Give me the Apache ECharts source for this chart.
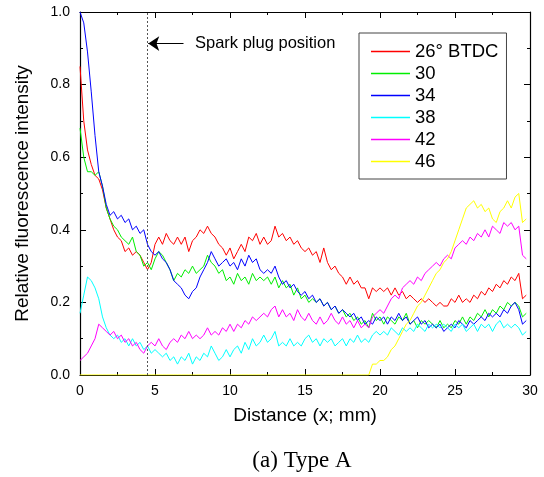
<!DOCTYPE html>
<html>
<head>
<meta charset="utf-8">
<script src="https://cdn.jsdelivr.net/npm/echarts@6/dist/echarts.min.js"></script>
<style>
  html, body { margin: 0; padding: 0; background: #fff; }
  #chart { width: 544px; height: 477px; }
</style>
</head>
<body>
<div id="chart"></div>
<script>
// sample positions along x (mm)
const distance = [
  0,0.25,0.5,0.75,1,1.25,1.5,1.75,2,2.25,2.5,2.75,3,3.25,3.5,3.75,4,4.25,4.5,4.75,
  5,5.25,5.5,5.75,6,6.25,6.5,6.75,7,7.25,7.5,7.75,8,8.25,8.5,8.75,9,9.25,9.5,9.75,
  10,10.25,10.5,10.75,11,11.25,11.5,11.75,12,12.25,12.5,12.75,13,13.25,13.5,13.75,14,14.25,14.5,14.75,
  15,15.25,15.5,15.75,16,16.25,16.5,16.75,17,17.25,17.5,17.75,18,18.25,18.5,18.75,19,19.25,19.5,19.75,
  20,20.25,20.5,20.75,21,21.25,21.5,21.75,22,22.25,22.5,22.75,23,23.25,23.5,23.75,24,24.25,24.5,24.75,
  25,25.25,25.5,25.75,26,26.25,26.5,26.75,27,27.25,27.5,27.75,28,28.25,28.5,28.75,29,29.25,29.5,29.75
];

const names = ['26° BTDC', '30', '34', '38', '42', '46'];
const colors = ['#ff0000', '#00ee00', '#0000ff', '#00ffff', '#ff00ff', '#ffff00'];

const red = [
  0.85,0.70,0.62,0.58,0.55,0.54,0.51,0.46,0.43,0.40,0.38,0.37,0.34,0.35,0.33,0.34,0.33,0.31,0.29,0.31,
  0.36,0.38,0.36,0.39,0.37,0.36,0.38,0.36,0.38,0.34,0.37,0.38,0.40,0.39,0.41,0.39,0.38,0.36,0.35,0.33,
  0.35,0.32,0.34,0.36,0.34,0.38,0.37,0.39,0.36,0.38,0.36,0.37,0.41,0.38,0.39,0.37,0.38,0.36,0.37,0.35,
  0.34,0.35,0.33,0.34,0.31,0.35,0.31,0.29,0.30,0.28,0.27,0.25,0.27,0.25,0.26,0.24,0.24,0.21,0.24,0.23,
  0.24,0.23,0.24,0.22,0.24,0.22,0.23,0.21,0.22,0.21,0.20,0.21,0.20,0.21,0.20,0.19,0.20,0.19,0.19,0.21,
  0.20,0.22,0.20,0.21,0.20,0.22,0.21,0.23,0.22,0.24,0.23,0.25,0.24,0.26,0.25,0.27,0.26,0.28,0.21,0.22
];
const green = [
  0.68,0.60,0.56,0.56,0.55,0.56,0.52,0.46,0.43,0.41,0.40,0.38,0.37,0.36,0.38,0.34,0.33,0.30,0.31,0.29,
  0.32,0.34,0.33,0.31,0.29,0.26,0.28,0.27,0.29,0.28,0.30,0.28,0.29,0.30,0.33,0.31,0.30,0.28,0.29,0.26,
  0.27,0.25,0.28,0.26,0.27,0.25,0.28,0.26,0.27,0.26,0.27,0.25,0.27,0.24,0.26,0.24,0.25,0.22,0.24,0.21,
  0.22,0.20,0.21,0.20,0.21,0.19,0.20,0.18,0.19,0.17,0.18,0.16,0.17,0.15,0.16,0.14,0.15,0.13,0.17,0.15,
  0.16,0.14,0.16,0.15,0.14,0.16,0.15,0.17,0.14,0.15,0.13,0.15,0.14,0.15,0.14,0.13,0.15,0.13,0.14,0.13,
  0.15,0.14,0.16,0.14,0.16,0.15,0.17,0.16,0.18,0.16,0.18,0.17,0.19,0.18,0.20,0.19,0.20,0.19,0.16,0.17
];
const blue = [
  1.00,0.97,0.89,0.78,0.66,0.56,0.52,0.47,0.44,0.45,0.43,0.44,0.42,0.43,0.40,0.41,0.39,0.40,0.36,0.34,
  0.33,0.34,0.32,0.31,0.29,0.26,0.25,0.24,0.22,0.21,0.23,0.24,0.27,0.29,0.31,0.34,0.32,0.30,0.31,0.32,
  0.30,0.31,0.29,0.32,0.30,0.33,0.31,0.32,0.29,0.28,0.29,0.28,0.30,0.27,0.25,0.26,0.24,0.25,0.23,0.22,
  0.23,0.21,0.22,0.20,0.21,0.19,0.20,0.18,0.19,0.17,0.18,0.17,0.16,0.17,0.15,0.16,0.14,0.15,0.14,0.16,
  0.15,0.16,0.14,0.16,0.15,0.17,0.15,0.16,0.14,0.15,0.16,0.14,0.15,0.13,0.14,0.13,0.14,0.12,0.13,0.14,
  0.13,0.15,0.14,0.13,0.15,0.14,0.15,0.16,0.15,0.17,0.16,0.17,0.16,0.18,0.17,0.19,0.20,0.18,0.14,0.15
];
const cyan = [
  0.17,0.22,0.27,0.26,0.24,0.21,0.16,0.13,0.11,0.10,0.11,0.09,0.10,0.08,0.10,0.08,0.09,0.07,0.08,0.06,
  0.07,0.06,0.05,0.06,0.04,0.05,0.03,0.05,0.04,0.06,0.03,0.05,0.04,0.06,0.05,0.08,0.06,0.04,0.05,0.07,
  0.05,0.07,0.08,0.06,0.09,0.07,0.10,0.08,0.09,0.11,0.09,0.10,0.12,0.08,0.09,0.08,0.10,0.08,0.09,0.08,
  0.10,0.11,0.09,0.10,0.08,0.10,0.09,0.10,0.08,0.09,0.10,0.08,0.10,0.09,0.11,0.09,0.10,0.09,0.11,0.12,
  0.11,0.12,0.11,0.13,0.12,0.11,0.13,0.12,0.13,0.12,0.14,0.13,0.12,0.14,0.13,0.14,0.13,0.14,0.13,0.12,
  0.14,0.13,0.14,0.12,0.13,0.14,0.12,0.14,0.13,0.14,0.12,0.14,0.15,0.13,0.14,0.13,0.14,0.13,0.11,0.12
];
const magenta = [
  0.04,0.05,0.06,0.08,0.10,0.14,0.13,0.12,0.11,0.12,0.10,0.11,0.09,0.10,0.08,0.09,0.07,0.06,0.08,0.09,
  0.08,0.10,0.08,0.07,0.09,0.10,0.09,0.11,0.10,0.12,0.10,0.11,0.10,0.11,0.13,0.11,0.12,0.11,0.13,0.12,
  0.14,0.12,0.14,0.13,0.15,0.14,0.16,0.15,0.16,0.17,0.16,0.18,0.19,0.16,0.18,0.16,0.17,0.15,0.18,0.16,
  0.15,0.17,0.15,0.14,0.16,0.14,0.15,0.17,0.15,0.14,0.16,0.14,0.15,0.13,0.15,0.13,0.14,0.13,0.16,0.17,
  0.18,0.17,0.19,0.21,0.22,0.21,0.24,0.25,0.26,0.25,0.27,0.26,0.28,0.29,0.30,0.31,0.30,0.32,0.33,0.32,
  0.35,0.36,0.37,0.36,0.38,0.37,0.39,0.38,0.40,0.38,0.41,0.40,0.39,0.42,0.41,0.42,0.40,0.41,0.33,0.32
];
const yellow = [
  0,0,0,0,0,0,0,0,0,0,0,0,0,0,0,0,0,0,0,0,
  0,0,0,0,0,0,0,0,0,0,0,0,0,0,0,0,0,0,0,0,
  0,0,0,0,0,0,0,0,0,0,0,0,0,0,0,0,0,0,0,0,
  0,0,0,0,0,0,0,0,0,0,0,0,0,0,0,0,0,0,0.03,0.03,
  0.04,0.04,0.05,0.07,0.08,0.10,0.12,0.14,0.15,0.17,0.19,0.20,0.22,0.24,0.26,0.28,0.29,0.31,0.32,0.34,
  0.37,0.40,0.43,0.46,0.47,0.48,0.46,0.47,0.45,0.46,0.43,0.42,0.45,0.46,0.48,0.46,0.49,0.50,0.42,0.43
];
const seriesValues = [red, green, blue, cyan, magenta, yellow];

const sparkPlugX = 4.5;
const arrowY = 0.913;
const arrowFromX = 6.9;

const FONT = 'Liberation Sans, Arial, sans-serif';

const chart = echarts.init(document.getElementById('chart'), null, { renderer: 'canvas' });

const axisCommon = {
  type: 'value',
  axisLine: { show: true, onZero: false, lineStyle: { color: '#000', width: 1.2 } },
  axisTick: { show: true, inside: true, length: 6, lineStyle: { color: '#000', width: 1 } },
  minorTick: { show: true, splitNumber: 2, length: 3, lineStyle: { color: '#000', width: 1 } },
  splitLine: { show: false }
};

const series = seriesValues.map((vals, k) => ({
  name: names[k],
  type: 'line',
  data: distance.map((x, i) => [x, vals[i]]),
  symbol: 'none',
  lineStyle: { width: 1, color: colors[k] },
  itemStyle: { color: colors[k] },
  animation: false,
  z: 2
}));

// spark plug marker + arrow
series.push({
  type: 'line',
  data: [],
  silent: true,
  markLine: {
    silent: true,
    animation: false,
    symbol: ['none', 'none'],
    label: { show: false },
    lineStyle: { color: '#555', type: [2, 2], width: 1 },
    data: [{ xAxis: sparkPlugX }]
  }
});
series.push({
  type: 'line',
  data: [],
  silent: true,
  itemStyle: { color: '#000' },
  markLine: {
    silent: true,
    animation: false,
    symbol: ['none', 'arrow'],
    symbolSize: 11,
    label: { show: false },
    itemStyle: { color: '#000' },
    lineStyle: { color: '#000', type: 'solid', width: 1 },
    data: [[{ coord: [arrowFromX, arrowY] }, { coord: [sparkPlugX + 0.05, arrowY] }]]
  }
});

chart.setOption({
  backgroundColor: '#fff',
  animation: false,
  textStyle: { fontFamily: FONT },
  grid: { left: 80, right: 14, top: 12, bottom: 102 },
  legend: {
    orient: 'vertical',
    left: 359,
    top: 33,
    data: names.map(n => ({ name: n, icon: 'rect' })),
    itemWidth: 39,
    itemHeight: 1.5,
    itemGap: 3,
    padding: [9, 8, 8, 12],
    borderColor: '#444',
    borderWidth: 1,
    backgroundColor: '#fff',
    textStyle: { fontFamily: FONT, fontSize: 18.5, color: '#000', lineHeight: 18 }
  },
  xAxis: [
    Object.assign({}, axisCommon, {
      min: 0, max: 30, interval: 5, position: 'bottom',
      axisLabel: { fontFamily: FONT, fontSize: 14, color: '#000', margin: 9 },
      name: 'Distance (x; mm)',
      nameLocation: 'middle',
      nameGap: 31,
      nameTextStyle: { fontFamily: FONT, fontSize: 19, color: '#000' }
    }),
    Object.assign({}, axisCommon, {
      min: 0, max: 30, interval: 5, position: 'top',
      axisLabel: { show: false }
    })
  ],
  yAxis: [
    Object.assign({}, axisCommon, {
      min: 0, max: 1, interval: 0.2, position: 'left',
      axisLabel: { fontFamily: FONT, fontSize: 14, color: '#000', margin: 10, formatter: v => v.toFixed(1) },
      name: 'Relative fluorescence intensity',
      nameLocation: 'middle',
      nameGap: 48,
      nameTextStyle: { fontFamily: FONT, fontSize: 19, color: '#000' }
    }),
    Object.assign({}, axisCommon, {
      min: 0, max: 1, interval: 0.2, position: 'right',
      axisLabel: { show: false }
    })
  ],
  graphic: [
    {
      type: 'text', left: 195, top: 35,
      style: { text: 'Spark plug position', font: '16.5px ' + FONT, fill: '#000' }
    },
    {
      type: 'text', x: 302, y: 461,
      style: { text: '(a) Type A', font: '23px Liberation Serif, Times New Roman, serif', fill: '#000', align: 'center', verticalAlign: 'middle' }
    }
  ],
  series: series
});
</script>
</body>
</html>
